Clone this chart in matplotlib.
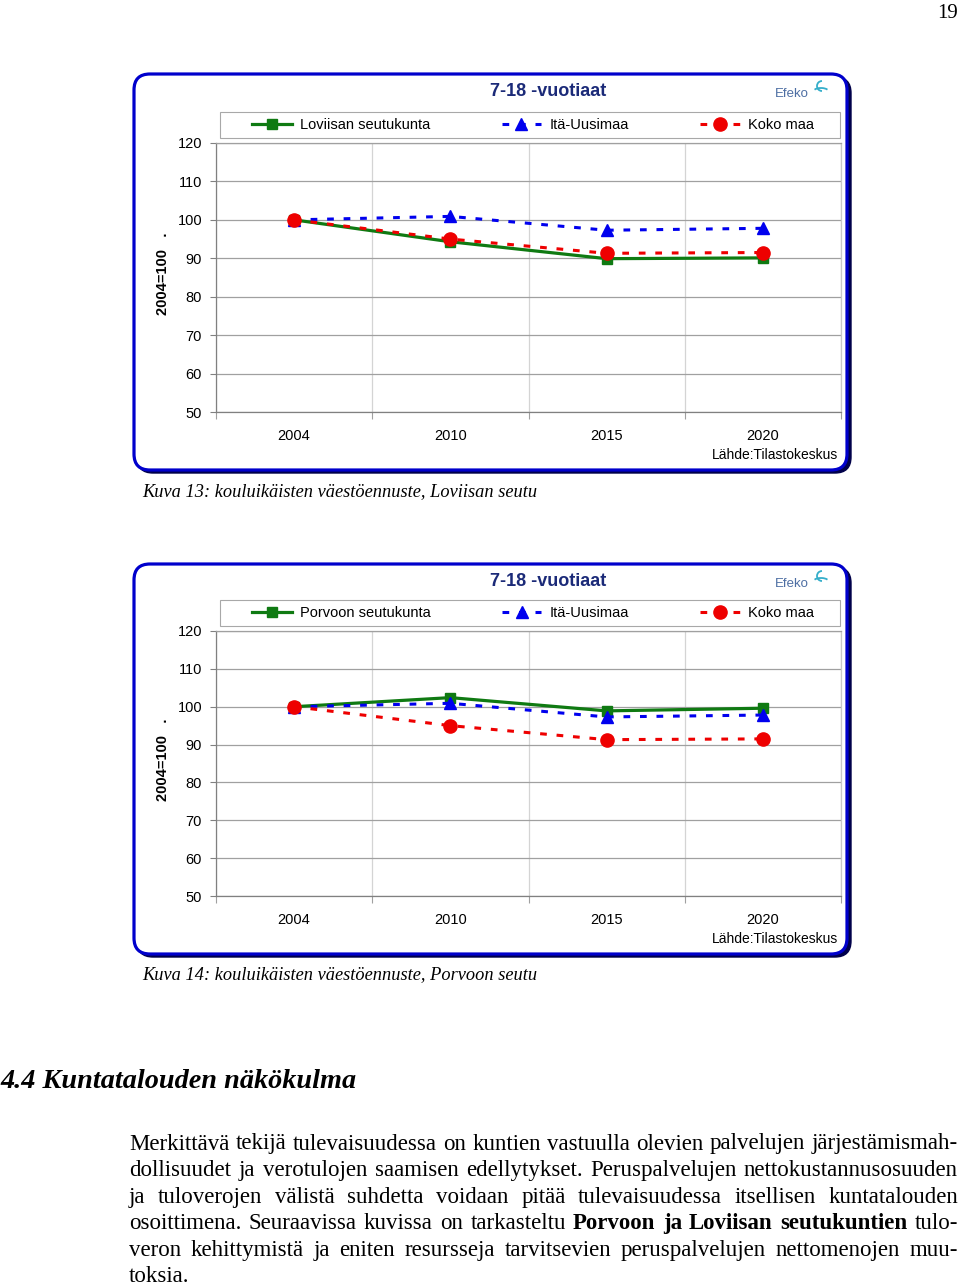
import matplotlib
matplotlib.use("Agg")
import matplotlib.pyplot as plt
from matplotlib.lines import Line2D
from matplotlib.patches import FancyBboxPatch, Rectangle, Arc

W, H = 960, 1285
OUT = "out.png"

# values (index 2004 = 100)
YEARS = ["2004", "2010", "2015", "2020"]
LOVIISA = [100.0, 94.3, 89.9, 90.1]
PORVOO = [100.0, 102.4, 98.9, 99.6]
ITA_UUSIMAA = [100.0, 100.9, 97.3, 97.8]
KOKO_MAA = [100.0, 95.0, 91.3, 91.5]
Y_TICKS = [50, 60, 70, 80, 90, 100, 110, 120]

TITLE = "7-18 -vuotiaat"
SOURCE = "Lähde:Tilastokeskus"
YLABEL = "2004=100   ."
SERIES_NAMES = ["Loviisan seutukunta", "Porvoon seutukunta", "Itä-Uusimaa", "Koko maa"]
CAPTIONS = ["Kuva 13: kouluikäisten väestöennuste, Loviisan seutu",
            "Kuva 14: kouluikäisten väestöennuste, Porvoon seutu"]
HEADING = "4.4 Kuntatalouden näkökulma"
PARAGRAPH = [
    "Merkittävä tekijä tulevaisuudessa on kuntien vastuulla olevien palvelujen järjestämismah-",
    "dollisuudet ja verotulojen saamisen edellytykset. Peruspalvelujen nettokustannusosuuden",
    "ja tuloverojen välistä suhdetta voidaan pitää tulevaisuudessa itsellisen kuntatalouden",
    "osoittimena. Seuraavissa kuvissa on tarkasteltu *Porvoon *ja *Loviisan *seutukuntien tulo-",
    "veron kehittymistä ja eniten resursseja tarvitsevien peruspalvelujen nettomenojen muu-",
    "toksia.",
]

GREEN = "#0f7a12"
BLUE = "#0000ee"
RED = "#ee0000"
NAVY = "#1b2a78"
SANS = "Liberation Sans"
SERIF = "Liberation Serif"


def draw_chart(fig, bg, box_top, box_bot, plot_top, plot_bot, name, values):
    # framed box with dark shadow on the right/bottom
    bg.add_patch(FancyBboxPatch((137, box_top + 3), 714, box_bot - box_top,
                                boxstyle="round,pad=0,rounding_size=16",
                                fc="#00004a", ec="#00004a", lw=1, zorder=1))
    bg.add_patch(FancyBboxPatch((134, box_top), 713, box_bot - box_top,
                                boxstyle="round,pad=0,rounding_size=16",
                                fc="white", ec="#0000cc", lw=2.3, zorder=2))
    bg.text(548, box_top + 17, TITLE, ha="center", va="center", color=NAVY,
            fontsize=13, fontweight="bold", family=SANS, zorder=3)
    # logo
    bg.text(775, box_top + 20, "Efeko", ha="left", va="center", color="#4d6ea3",
            fontsize=9.5, family=SANS, zorder=3)
    bg.add_patch(Arc((822, box_top + 12), 10, 10, theta1=90, theta2=270,
                     color="#35aeca", lw=1.3, zorder=3))
    bg.add_patch(Arc((821, box_top + 18), 16, 8, theta1=200, theta2=340,
                     color="#35aeca", lw=1.3, zorder=3))
    # legend frame
    leg_top = plot_top - 31
    bg.add_patch(Rectangle((220, leg_top), 620, 26, fc="white", ec="#a8a8a8",
                           lw=0.8, zorder=3))
    bg.text(163, (plot_top + plot_bot) / 2 - 4, YLABEL, rotation=90, ha="center",
            va="center", fontsize=10.5, fontweight="bold", family=SANS, zorder=3)
    bg.text(838, box_bot - 15, SOURCE, ha="right", va="center", fontsize=10,
            family=SANS, zorder=3)

    ax = fig.add_axes([216 / W, 1 - plot_bot / H, (841 - 216) / W,
                       (plot_bot - plot_top) / H], zorder=5)
    ax.set_facecolor("white")
    x = [i + 0.5 for i in range(len(YEARS))]
    ax.plot(x, values, color=GREEN, lw=2.3, marker="s", ms=7, mfc=GREEN,
            mec=GREEN, zorder=3)
    ax.plot(x, ITA_UUSIMAA, color=BLUE, lw=2.2, dashes=(2.2, 3.2), marker="^",
            ms=8, mfc=BLUE, mec=BLUE, zorder=4)
    ax.plot(x, KOKO_MAA, color=RED, lw=2.2, dashes=(2.2, 3.2), marker="o",
            ms=9.5, mfc=RED, mec=RED, zorder=5)
    ax.set_xlim(0, len(YEARS))
    ax.set_ylim(Y_TICKS[0], Y_TICKS[-1])
    ax.set_yticks(Y_TICKS)
    ax.set_xticks(x)
    ax.set_xticklabels(YEARS)
    ax.set_xticks(range(len(YEARS) + 1), minor=True)
    ax.tick_params(axis="y", length=4, width=0.8, color="#808080", pad=6,
                   labelsize=10.5)
    ax.tick_params(axis="x", which="major", length=0, pad=12.5, labelsize=10.5)
    ax.tick_params(axis="x", which="minor", length=5, width=0.8, color="#a0a0a0")
    for lab in ax.get_xticklabels() + ax.get_yticklabels():
        lab.set_family(SANS)
    ax.grid(axis="y", color="#a0a0a0", lw=0.9)
    ax.grid(axis="x", which="minor", color="#d4d4d4", lw=0.9)
    ax.set_axisbelow(True)
    for side, col in [("left", "#808080"), ("bottom", "#808080"),
                      ("top", "#a0a0a0"), ("right", "#c8c8c8")]:
        ax.spines[side].set_color(col)
        ax.spines[side].set_linewidth(0.9)

    handles = [
        Line2D([], [], color=GREEN, lw=2.3, marker="s", ms=7),
        Line2D([], [], color=BLUE, lw=2.2, dashes=(2.2, 3.2), marker="^", ms=8),
        Line2D([], [], color=RED, lw=2.2, dashes=(2.2, 3.2), marker="o", ms=9.5),
    ]
    ax.legend(handles, [name, SERIES_NAMES[2], SERIES_NAMES[3]],
              loc="center", bbox_to_anchor=(248 / W, 1 - (leg_top + 26) / H,
                                            570 / W, 26 / H),
              bbox_transform=fig.transFigure, mode="expand", ncol=3,
              borderaxespad=0, frameon=False, handlelength=2.7,
              handletextpad=0.55, borderpad=0.3, numpoints=1,
              prop={"family": SANS, "size": 10.5})
    return ax


def justified(fig, bg, line, x0, x1, y, size, last=False):
    r = fig.canvas.get_renderer()
    texts = []
    for w in line.split(" "):
        bold = w.startswith("*")
        t = bg.text(0, y, w.lstrip("*"), ha="left", va="baseline", fontsize=size,
                    family=SERIF, fontweight="bold" if bold else "normal")
        texts.append(t)
    widths = [t.get_window_extent(r).width for t in texts]
    if last or len(texts) == 1:
        gap = size * 0.3
    else:
        gap = (x1 - x0 - sum(widths)) / (len(texts) - 1)
    x = x0
    for t, w in zip(texts, widths):
        t.set_x(x)
        x += w + gap


def main():
    fig = plt.figure(figsize=(W / 100, H / 100), dpi=100)
    bg = fig.add_axes([0, 0, 1, 1], zorder=0)
    bg.set_xlim(0, W)
    bg.set_ylim(H, 0)
    bg.axis("off")

    bg.text(958, 13, "19", ha="right", va="center", fontsize=15, family=SERIF)

    draw_chart(fig, bg, 74, 470, 143, 412, SERIES_NAMES[0], LOVIISA)
    draw_chart(fig, bg, 564, 954, 631, 896, SERIES_NAMES[1], PORVOO)

    bg.text(142, 492, CAPTIONS[0], ha="left", va="center", fontsize=13.2,
            style="italic", family=SERIF)
    bg.text(142, 975, CAPTIONS[1], ha="left", va="center", fontsize=13.2,
            style="italic", family=SERIF)

    bg.text(0, 1081, HEADING, ha="left", va="center", fontsize=20.3,
            style="italic", fontweight="bold", family=SERIF)

    for i, line in enumerate(PARAGRAPH):
        justified(fig, bg, line, 129, 958, 1149.5 + 26.6 * i, 16.5,
                  last=(i == len(PARAGRAPH) - 1))

    fig.savefig(OUT, dpi=100)


if __name__ == "__main__":
    main()
